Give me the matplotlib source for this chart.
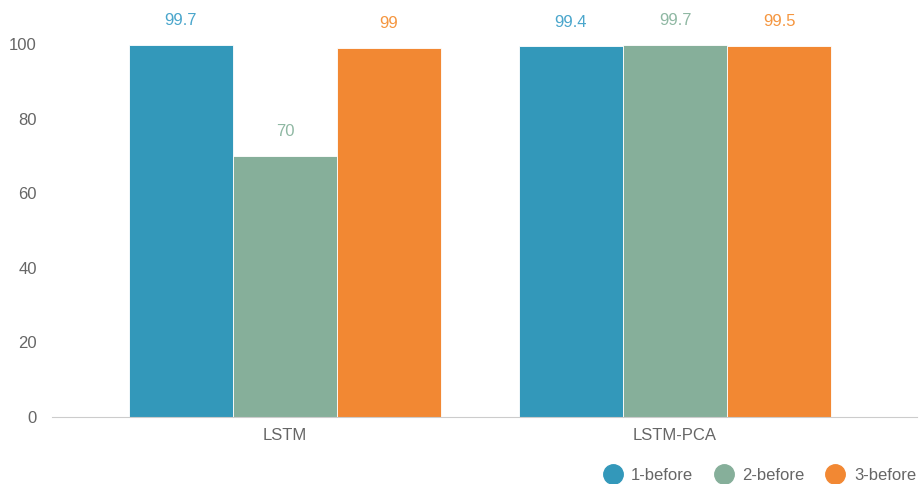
import numpy as np
import matplotlib.pyplot as plt
from matplotlib.lines import Line2D

plt.rcParams['font.family'] = ['Liberation Sans', 'DejaVu Sans']

categories = ["LSTM", "LSTM-PCA"]
series = ["1-before", "2-before", "3-before"]
values = {
    "1-before": [99.7, 99.4],
    "2-before": [70, 99.7],
    "3-before": [99, 99.5],
}
colors = ["#3398ba", "#86af9a", "#f28833"]
label_colors = ["#4aa6cc", "#8fb8a3", "#f5963f"]

W, H = 919, 484
fig = plt.figure(figsize=(W / 100, H / 100), dpi=100)
ax = fig.add_axes([52 / W, 1 - 417 / H, (917 - 52) / W, (417 - 44) / H])

x = np.arange(len(categories))
bw = 0.267
for i, s in enumerate(series):
    xs = x + (i - 1) * bw
    bars = ax.bar(xs, values[s], width=bw, color=colors[i], edgecolor='white', linewidth=0.6)
    for b, v in zip(bars, values[s]):
        ax.annotate(f"{v:g}", (b.get_x() + b.get_width() / 2, v), xytext=(0, 12),
                    textcoords='offset points', ha='center', va='bottom',
                    fontsize=12, color=label_colors[i], annotation_clip=False)

ax.set_xlim(-0.597, 1.62)
ax.set_ylim(0, 100)
ax.set_yticks([0, 20, 40, 60, 80, 100])
ax.set_xticks(x)
ax.set_xticklabels(categories)
ax.tick_params(axis='both', length=0, labelsize=12, labelcolor='#666666')
ax.tick_params(axis='y', pad=11)
ax.tick_params(axis='x', pad=8)
for sp in ['top', 'right', 'left']:
    ax.spines[sp].set_visible(False)
ax.spines['bottom'].set_color('#cccccc')

handles = [Line2D([], [], marker='o', linestyle='', markersize=14, color=c) for c in colors]
fig.legend(handles, series, loc='lower right', bbox_to_anchor=(1.013, -0.028), ncol=3, frameon=False,
           fontsize=12, labelcolor='#666666', handletextpad=0.1, columnspacing=0.85)

fig.savefig("out.png", dpi=100)
